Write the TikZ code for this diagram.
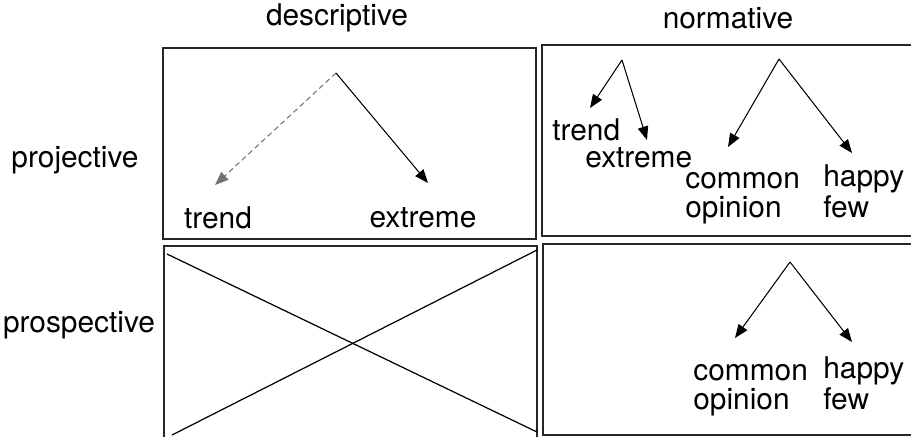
\documentclass[tikz,border=0pt]{standalone}
\usepackage{fontspec}
\setmainfont{TeX Gyre Heros}
\usetikzlibrary{arrows.meta, positioning}

\begin{document}
\begin{tikzpicture}[
    x=0.02cm, y=-0.02cm,
    panel/.style={draw=black!85, line width=0.8pt},
    word/.style={font=\fontsize{17}{16}\selectfont, inner sep=0pt, align=left},
    heading/.style={font=\fontsize{17}{20}\selectfont, inner sep=0pt},
    branch/.style={-{Triangle[length=0.27cm,width=0.21cm]}, line width=0.6pt},
    faint/.style={densely dashed, draw=black!55}
]
\useasboundingbox (0,0) rectangle (911,436);

% Headings
\node[heading] (desc) at (337,18) {descriptive};
\node[heading] (norm) at (728,18) {normative};
\node[heading] (proj) at (75,160) {projective};
\node[heading] (prosp) at (79,325) {prospective};

% Panels
\draw[panel] (163,48) rectangle (536,239);
\draw[panel] (542,45) rectangle (925,236);
\draw[panel] (164,246) rectangle (537,440);
\draw[panel] (543,244) rectangle (925,435);

% descriptive / projective
\coordinate (dpTop) at (336,73);
\coordinate (dpL) at (215,185);
\coordinate (dpR) at (428,183);
\node[word] (dpTrend) at (218,218) {trend};
\node[word] (dpExtreme) at (423,218) {extreme};
\draw[branch, faint] (dpTop) -- (dpL);
\draw[branch] (dpTop) -- (dpR);

% normative / projective
\coordinate (npTop) at (622,60);
\coordinate (npL) at (590,108);
\coordinate (npR) at (647,140);
\node[word, anchor=west] (npTrend) at (552,130) {trend};
\node[word, anchor=west] (npExtreme) at (585,158) {extreme};
\draw[branch] (npTop) -- (npL);
\draw[branch] (npTop) -- (npR);

\coordinate (noTop) at (779,59);
\coordinate (noL) at (728,147);
\coordinate (noR) at (852,153);
\node[word, anchor=base west] (npCommon) at (685,217) {common\\opinion};
\node[word, anchor=base west] (npHappy) at (823,217) {happy\\few};
\draw[branch] (noTop) -- (noL);
\draw[branch] (noTop) -- (noR);

% descriptive / prospective
\draw[line width=0.7pt] (167,254) -- (537,432);
\draw[line width=0.7pt] (172,435) -- (537,250);

% normative / prospective
\coordinate (nsTop) at (790,262);
\coordinate (nsL) at (735,338);
\coordinate (nsR) at (852,342);
\node[word, anchor=base west] (nsCommon) at (693,409) {common\\opinion};
\node[word, anchor=base west] (nsHappy) at (823,409) {happy\\few};
\draw[branch] (nsTop) -- (nsL);
\draw[branch] (nsTop) -- (nsR);

\end{tikzpicture}
\end{document}
